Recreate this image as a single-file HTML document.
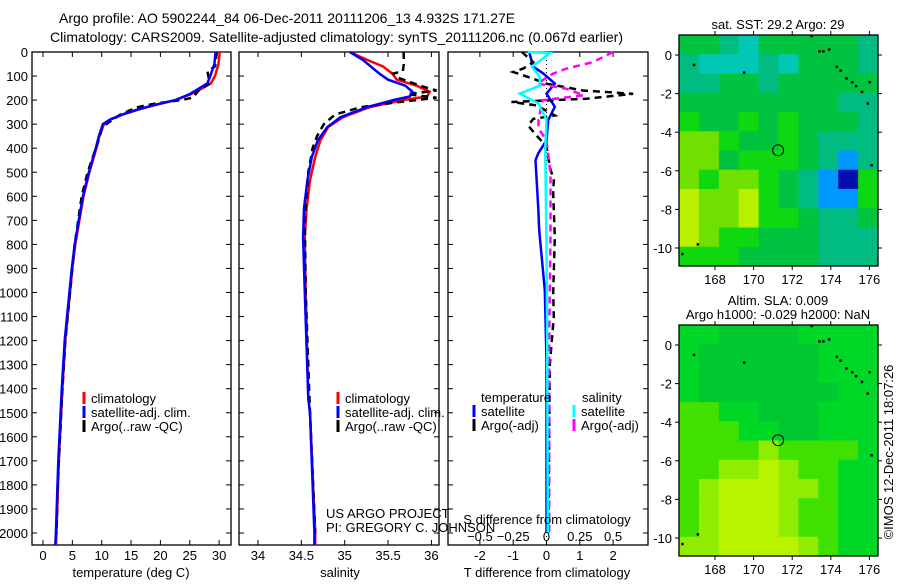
<!DOCTYPE html>
<html><head><meta charset="utf-8"><style>
body{margin:0;background:#fff}
svg text{font-family:"Liberation Sans",sans-serif;fill:#000}
</style></head><body>
<svg id="chart" width="900" height="580" viewBox="0 0 900 580" xmlns="http://www.w3.org/2000/svg">
<rect width="900" height="580" fill="#fff"/>
<text x="59" y="23" font-size="14">Argo profile: AO 5902244_84 06-Dec-2011 20111206_13 4.932S 171.27E</text>
<text x="50" y="42" font-size="14">Climatology: CARS2009. Satellite-adjusted climatology: synTS_20111206.nc (0.067d earlier)</text>
<g id="p1"></g>
<g id="p2"></g>
<g id="p3"></g>
<g id="m1"></g>
<g id="m2"></g>
<text transform="translate(893,452) rotate(-90)" text-anchor="middle" font-size="13">©IMOS 12-Dec-2011 18:07:26</text>
</svg>
<script>
// ---- data ----
const tDepth = [0,50,100,130,150,175,200,220,240,260,280,300,350,400,500,600,700,800,900,1000,1200,1400,1500,1700,2000,2050];
const tClim  = [30.1,29.9,29.3,28.6,27.2,25.2,22.6,19.2,16.2,13.6,11.6,10.4,9.6,9.1,7.9,6.9,6.2,5.5,5.0,4.6,3.8,3.3,3.1,2.7,2.3,2.2];
const tSat   = [29.4,29.2,28.5,28.0,26.7,25.0,22.5,19.0,16.0,13.5,11.5,10.2,9.5,9.0,7.8,6.8,6.1,5.4,4.9,4.5,3.7,3.2,3.0,2.6,2.2,2.1];
const aDepth = [0,60,80,130,160,190,200,215,230,260,300,320,350,400,500,600,700,800,1000,1200,1400,1600,1800,2000];
const tArgo  = [29.6,29.3,28.0,28.4,26.5,25.5,23.5,19.0,16.0,13.2,10.8,10.0,9.7,9.0,7.6,6.6,6.0,5.4,4.6,3.8,3.3,2.9,2.5,2.3];
const sDepth = [0,33,60,90,115,140,165,185,200,229,271,312,367,437,533,650,770,1000,1440,1500,2000,2050];
const sClim  = [35.06,35.26,35.44,35.55,35.6,35.83,35.98,35.95,35.67,35.29,34.98,34.81,34.72,34.66,34.6,34.56,34.54,34.55,34.58,34.6,34.66,34.66];
const sSat   = [35.06,35.21,35.3,35.4,35.5,35.7,35.78,35.75,35.56,35.26,34.95,34.8,34.69,34.62,34.57,34.53,34.52,34.54,34.58,34.6,34.65,34.65];
const saDepth= [0,54,80,90,110,140,160,175,190,210,230,260,300,350,400,500,700,1000,1500,2000];
const sArgo  = [35.68,35.68,35.67,35.56,35.64,35.87,36.06,35.72,36.06,35.58,35.18,34.89,34.76,34.68,34.63,34.58,34.54,34.55,34.6,34.66];
const dDepth = [0,61,89,131,173,228,283,367,422,450,644,740,769,990,1280,1600,2000];
const dTsat  = [-0.52,-0.4,-0.1,0.25,0,0.25,0.05,0,-0.25,-0.33,-0.25,-0.22,-0.2,-0.05,0,0,0];
const ddDepth= [0,42,69,83,111,132,160,174,194,208,222,264,278,306,347,392,478,533,589,769,1000,1100,1300,1600,2000];
const dTargo = [-0.74,-0.4,-0.7,-1.0,-0.4,0,1.1,2.6,1.2,-1.05,-0.3,0.25,-0.4,-0.55,-0.3,0,0.1,0.22,0.2,0.25,0.2,0.22,0.1,0.08,0.05];
const dsDepth= [0,5,61,103,140,173,214,283,400,800,1200,2000];
const dSsat  = [-0.14,0.026,-0.11,-0.05,-0.05,-0.2,-0.06,0,-0.01,0,0.005,0.01];
const dsaDepth=[0,42,69,90,131,153,180,201,283,318,367,506,769,1200,2000];
const dSargo = [0.5,0.35,0.15,0.05,-0.07,0.15,0.28,-0.03,-0.06,-0.06,0,0.03,0.03,0.02,0.02];
const depthTicks = [0,100,200,300,400,500,600,700,800,900,1000,1100,1200,1300,1400,1500,1600,1700,1800,1900,2000];
const tTicks = [0,5,10,15,20,25,30];
const sTicks = [34,34.5,35,35.5,36];
const dTTicks = [-2,-1,0,1,2];
const dSTicks = [-0.5,-0.25,0,0.25,0.5];
const lonTicks = [168,170,172,174,176];
const latTicks = [0,-2,-4,-6,-8,-10];
const map1Grid = [
"ggtcgggggt","tccctcgggt","ttggtggggg","ggggggggtt","GggGgGgggt","yyGggGgttt",
"yygGGGgtbt","yGyyGgtbBG","YyyYGgtbbG","YyyYGGgttg","YyGGgggttt","GGGggggttt"];
const map2Grid = [
"ggddddgggg","gddddddggg","gddddddggg","gdddddddgg","llggdddggg","lllggddggg",
"llllyllllg","llyyYyllgg","lyYYYyylgg","lyYYYyllgg","lyYYYyllgg","yyYYYYylgg"];
const coastPts = [[173,1],[173.4,0.2],[173.6,0.2],[173.9,0.3],[174.3,-0.6],[174.5,-0.8],[174.8,-1.2],[175.1,-1.4],[175.3,-1.6],[176,-1.4],[175.6,-1.9],[175.9,-2.5],[166.9,-0.5],[169.5,-0.9],[167.1,-9.8],[166.3,-10.3],[176.1,-5.7]];
const argoPos = [171.27,-4.932];

// ---- helpers ----
const NS="http://www.w3.org/2000/svg";
function mk(parent,tag,attrs,txt){const e=document.createElementNS(NS,tag);for(const k in attrs)e.setAttribute(k,attrs[k]);if(txt!==undefined)e.textContent=txt;parent.appendChild(e);return e;}
const yD = d => 52 + d*0.2405;
function panel(g,x0,x1,xs,ticks,fmt,showY){
  const box=mk(g,'rect',{x:x0,y:52,width:x1-x0,height:493,fill:'none',stroke:'#000','stroke-width':1.3});
  
  depthTicks.forEach(d=>{const y=yD(d);
    mk(g,'line',{x1:x0,x2:x0+5,y1:y,y2:y,stroke:'#000'});mk(g,'line',{x1:x1,x2:x1-5,y1:y,y2:y,stroke:'#000'});
    if(showY){const t=mk(g,'text',{x:x0-4,y:y+5,'text-anchor':'end','font-size':13},String(d));
      }
  });
  ticks.forEach(v=>{const x=xs(v);
    mk(g,'line',{x1:x,x2:x,y1:545,y2:540,stroke:'#000'});mk(g,'line',{x1:x,x2:x,y1:52,y2:57,stroke:'#000'});
  });
}
function series(g,xs,dep,val,color,dash,name){
  const pts=dep.map((d,i)=>xs(val[i]).toFixed(1)+','+yD(d).toFixed(1)).join(' ');
  const p=mk(g,'polyline',{points:pts,fill:'none',stroke:color,'stroke-width':2.5});
  if(dash)p.setAttribute('stroke-dasharray',dash);
  
}
function xlabels(g,ticks,xs,y,fmt,name){ticks.forEach(v=>{const t=mk(g,'text',{x:xs(v),y:y,'text-anchor':'middle','font-size':13},fmt(v));
  });}
function legendEntry(g,x,y,color,label){const l=mk(g,'line',{x1:x,x2:x,y1:y-11,y2:y+1,stroke:color,'stroke-width':3});
  
  const t=mk(g,'text',{x:x+7,y:y,'font-size':13},label);
  }

// ---- panel 1 ----
const p1=document.getElementById('p1');
const xT=v=>43+v*5.87;
panel(p1,32,231,xT,tTicks,null,true);
series(p1,xT,tDepth,tClim,'#ff0000',null,'temperature-climatology-line');
series(p1,xT,aDepth,tArgo,'#000','7,5','temperature-argo-line');
series(p1,xT,tDepth,tSat,'#0000ff',null,'temperature-satellite-line');
xlabels(p1,tTicks,xT,560,String,'temperature-tick-label');
mk(p1,'text',{x:131,y:577,'text-anchor':'middle','font-size':13,},'temperature (deg C)');
legendEntry(p1,84,403,'#ff0000','climatology');legendEntry(p1,84,417,'#0000ff','satellite-adj. clim.');legendEntry(p1,84,431,'#000','Argo(..raw -QC)');

// ---- panel 2 ----
const p2=document.getElementById('p2');
const xS=v=>258+(v-34)*86.7;
panel(p2,239,439,xS,sTicks,null,false);
series(p2,xS,sDepth,sClim,'#ff0000',null,'salinity-climatology-line');
series(p2,xS,saDepth,sArgo,'#000','7,5','salinity-argo-line');
series(p2,xS,sDepth,sSat,'#0000ff',null,'salinity-satellite-line');
xlabels(p2,sTicks,xS,560,String,'salinity-tick-label');
mk(p2,'text',{x:340,y:577,'text-anchor':'middle','font-size':13,},'salinity');
legendEntry(p2,338,403,'#ff0000','climatology');legendEntry(p2,338,417,'#0000ff','satellite-adj. clim.');legendEntry(p2,338,431,'#000','Argo(..raw -QC)');
mk(p2,'text',{x:326,y:518,'font-size':13,},'US ARGO PROJECT');
mk(p2,'text',{x:326,y:532,'font-size':13,},'PI: GREGORY C. JOHNSON');

// ---- panel 3 ----
const p3=document.getElementById('p3');
const xDT=v=>546.5+v*33.3;
const xDS=v=>546.5+v*133.2;
panel(p3,448,648,xDT,dTTicks,null,false);
mk(p3,'line',{x1:546.5,x2:546.5,y1:52,y2:545,stroke:'#000','stroke-dasharray':'1,3',});
series(p3,xDT,dDepth,dTsat,'#0000ff',null,'t-diff-satellite-line');
series(p3,xDT,ddDepth,dTargo,'#000','7,5','t-diff-argo-line');
series(p3,xDS,dsaDepth,dSargo,'#ff00ff','7,5','s-diff-argo-line');
series(p3,xDS,dsDepth,dSsat,'#00ffff',null,'s-diff-satellite-line');
xlabels(p3,dTTicks,xDT,560,String,'t-diff-tick-label');
xlabels(p3,dSTicks,xDS,541,v=>String(v).replace('-','\u2212'),'s-diff-tick-label');
mk(p3,'text',{x:547,y:524,'text-anchor':'middle','font-size':13,},'S difference from climatology');
mk(p3,'text',{x:547,y:577,'text-anchor':'middle','font-size':13,},'T difference from climatology');
mk(p3,'text',{x:481,y:402,'font-size':13,},'temperature');
mk(p3,'text',{x:582,y:402,'font-size':13,},'salinity');
legendEntry(p3,474,416,'#0000ff','satellite');legendEntry(p3,474,430,'#000','Argo(-adj)');
legendEntry(p3,574,416,'#00ffff','satellite');legendEntry(p3,574,430,'#ff00ff','Argo(-adj)');

// ---- maps ----
const pal1={g:'#00c440',c:'#00c8b4',G:'#10d810',y:'#70e000',Y:'#b8f000',b:'#0098ff',B:'#0010b0',t:'#00bc80'};
const pal2={g:'#00d828',d:'#00c830',l:'#40e000',y:'#90ec00',Y:'#b8f400'};
function drawMap(g,top,grid,pal,titles){
  const x0=679,x1=878,y0=top,y1=top+231;
  const lonX=lon=>715+(lon-168)*19.3, latY=lat=>top+20-lat*19.3;
  const rows=grid.length;
  grid.forEach((row,r)=>{const cols=10;for(let c=0;c<cols;c++){
    const ch=row[c]||'g';
    const cell=mk(g,'rect',{x:x0+c*(x1-x0)/cols,y:y0+r*(y1-y0)/rows,width:(x1-x0)/cols+0.5,height:(y1-y0)/rows+0.5,fill:pal[ch]});
    }});
  coastPts.forEach(p=>{mk(g,'rect',{x:lonX(p[0])-1,y:latY(p[1])-1,width:2.5,height:2.5,fill:'#000'});});
  const c=mk(g,'circle',{cx:lonX(argoPos[0]),cy:latY(argoPos[1]),r:5.5,fill:'none',stroke:'#000','stroke-width':1});
  
  mk(g,'rect',{x:x0,y:y0,width:x1-x0,height:y1-y0,fill:'none',stroke:'#000','stroke-width':1.3});
  lonTicks.forEach(v=>{const x=lonX(v);mk(g,'line',{x1:x,x2:x,y1:y1,y2:y1+4,stroke:'#000'});mk(g,'line',{x1:x,x2:x,y1:y0,y2:y0-4,stroke:'#000'});
    const t=mk(g,'text',{x:x,y:y1+18,'text-anchor':'middle','font-size':13},String(v));});
  latTicks.forEach(v=>{const y=latY(v);mk(g,'line',{x1:x0,x2:x0-4,y1:y,y2:y,stroke:'#000'});mk(g,'line',{x1:x1,x2:x1+4,y1:y,y2:y,stroke:'#000'});
    const t=mk(g,'text',{x:x0-7,y:y+5,'text-anchor':'end','font-size':13},String(v));});
  titles.forEach((s,i)=>{const t=mk(g,'text',{x:778,y:top-6-(titles.length-1-i)*14,'text-anchor':'middle','font-size':13},s);
    });
}
drawMap(document.getElementById('m1'),35,map1Grid,pal1,['sat. SST: 29.2 Argo: 29']);
drawMap(document.getElementById('m2'),325,map2Grid,pal2,['Altim. SLA: 0.009','Argo h1000: -0.029 h2000: NaN']);
</script>
</body></html>
